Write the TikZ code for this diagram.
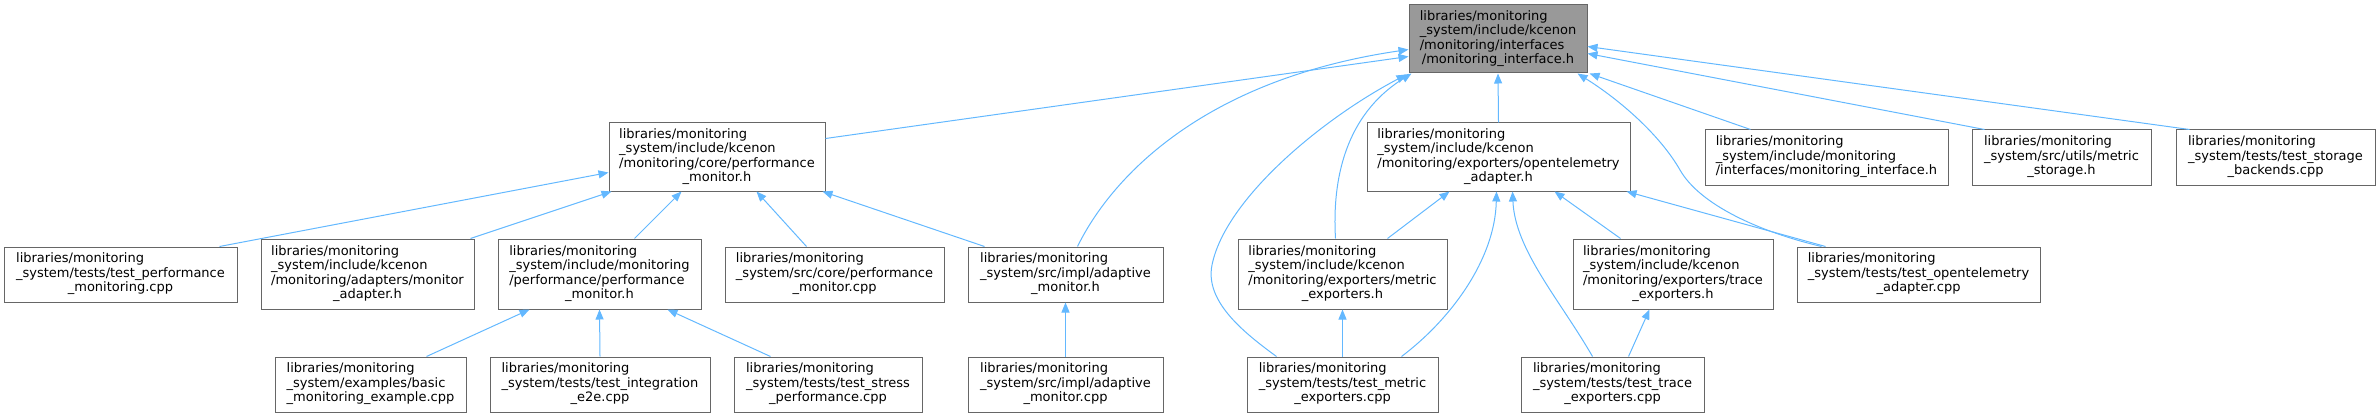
\documentclass[tikz,border=0pt]{standalone}
\usepackage{fontspec}
\newfontfamily\dvs{DejaVu Sans}
\usetikzlibrary{arrows.meta,calc}
\definecolor{gfour}{HTML}{666666}
\definecolor{gsix}{HTML}{999999}
\definecolor{edgeblue}{HTML}{63B8FF}
\newcommand\lab[2]{\begin{tabular}{@{}l@{}}#1\\\multicolumn{1}{@{}c@{}}{#2}\end{tabular}}
\tikzset{
  fbox/.style={draw=gfour, line width=1pt, fill=white, inner sep=0pt, anchor=center,
    font={\dvs\fontsize{13}{14.5}\selectfont}},
  hbig/.style={minimum height=68pt},
  hmid/.style={minimum height=70pt},
  hsml/.style={minimum height=55pt},
  edge/.style={draw=edgeblue, line width=1pt, -{Triangle[length=10pt,width=8pt,fill=edgeblue]}}
}
\begin{document}
\begin{tikzpicture}[x=1pt,y=-1pt]
\useasboundingbox (0,0) rectangle (2379,417);
% row 1
\node[fbox,hbig,fill=gsix,minimum width=178pt] (root) at (1498,39) {\lab{libraries/monitoring\\\_system/include/kcenon\\/monitoring/interfaces}{/monitoring\_interface.h}};
% row 2
\node[fbox,hbig,minimum width=216pt] (core) at (717,157) {\lab{libraries/monitoring\\\_system/include/kcenon\\/monitoring/core/performance}{\_monitor.h}};
\node[fbox,hbig,minimum width=263pt] (otel) at (1498.5,157) {\lab{libraries/monitoring\\\_system/include/kcenon\\/monitoring/exporters/opentelemetry}{\_adapter.h}};
\node[fbox,hsml,minimum width=243pt] (imi) at (1826.5,157.5) {\lab{libraries/monitoring\\\_system/include/monitoring}{/interfaces/monitoring\_interface.h}};
\node[fbox,hsml,minimum width=179pt] (mstore) at (2061.5,157.5) {\lab{libraries/monitoring\\\_system/src/utils/metric}{\_storage.h}};
\node[fbox,hsml,minimum width=199pt] (tsb) at (2275.5,157.5) {\lab{libraries/monitoring\\\_system/tests/test\_storage}{\_backends.cpp}};
% row 3
\node[fbox,hsml,minimum width=233pt] (tpm) at (120.5,274.5) {\lab{libraries/monitoring\\\_system/tests/test\_performance}{\_monitoring.cpp}};
\node[fbox,hmid,minimum width=213pt] (madp) at (367.5,274) {\lab{libraries/monitoring\\\_system/include/kcenon\\/monitoring/adapters/monitor}{\_adapter.h}};
\node[fbox,hmid,minimum width=203pt] (ppm) at (599.5,274) {\lab{libraries/monitoring\\\_system/include/monitoring\\/performance/performance}{\_monitor.h}};
\node[fbox,hsml,minimum width=219pt] (scpm) at (834.5,274.5) {\lab{libraries/monitoring\\\_system/src/core/performance}{\_monitor.cpp}};
\node[fbox,hsml,minimum width=195pt] (amh) at (1065.5,274.5) {\lab{libraries/monitoring\\\_system/src/impl/adaptive}{\_monitor.h}};
\node[fbox,hmid,minimum width=209pt] (mexp) at (1342.5,274) {\lab{libraries/monitoring\\\_system/include/kcenon\\/monitoring/exporters/metric}{\_exporters.h}};
\node[fbox,hmid,minimum width=200pt] (texp) at (1673,274) {\lab{libraries/monitoring\\\_system/include/kcenon\\/monitoring/exporters/trace}{\_exporters.h}};
\node[fbox,hsml,minimum width=243pt] (toa) at (1918.5,274.5) {\lab{libraries/monitoring\\\_system/tests/test\_opentelemetry}{\_adapter.cpp}};
% row 4
\node[fbox,hsml,minimum width=191pt] (bme) at (370.5,384.5) {\lab{libraries/monitoring\\\_system/examples/basic}{\_monitoring\_example.cpp}};
\node[fbox,hsml,minimum width=220pt] (tie) at (600,384.5) {\lab{libraries/monitoring\\\_system/tests/test\_integration}{\_e2e.cpp}};
\node[fbox,hsml,minimum width=188pt] (tsp) at (828,384.5) {\lab{libraries/monitoring\\\_system/tests/test\_stress}{\_performance.cpp}};
\node[fbox,hsml,minimum width=195pt] (amc) at (1065.5,384.5) {\lab{libraries/monitoring\\\_system/src/impl/adaptive}{\_monitor.cpp}};
\node[fbox,hsml,minimum width=191pt] (tme) at (1342.5,384.5) {\lab{libraries/monitoring\\\_system/tests/test\_metric}{\_exporters.cpp}};
\node[fbox,hsml,minimum width=183pt] (tte) at (1612.5,384.5) {\lab{libraries/monitoring\\\_system/tests/test\_trace}{\_exporters.cpp}};
% edges to root
\draw[edge] ($(core.north east)+(0,16)$) -- ($(root.north west)+(0,52)$);
\draw[edge] ($(amh.north west)+(110,0)$) .. controls (1110,180) and (1200,80) .. ($(root.north west)+(0,45)$);
\draw[edge] ($(tme.north west)+(30,0)$) .. controls (1240,330) and (1205,300) .. (1212,265) .. controls (1225,200) and (1320,120) .. ($(root.south west)+(-2,1)$);
\draw[edge] ($(mexp.north west)+(98,0)$) .. controls (1332,180) and (1345,115) .. ($(root.south west)+(3,0)$);
\draw[edge] (otel.north) -- (root.south);
\draw[edge] ($(toa.north west)+(25,0)$) .. controls (1760,232) and (1700,205) .. (1680,170) .. controls (1660,135) and (1620,100) .. ($(root.south east)+(-10,0)$);
\draw[edge] ($(imi.north west)+(46,0)$) -- ($(root.south east)+(2,0)$);
\draw[edge] ($(mstore.north west)+(13,0)$) -- ($(root.north east)+(0,49)$);
\draw[edge] ($(tsb.north west)+(14,0)$) -- ($(root.north east)+(0,42)$);
% edges to core
\draw[edge] ($(tpm.north west)+(216,0)$) -- ($(core.north west)+(0,50)$);
\draw[edge] ($(madp.north west)+(210,0)$) -- ($(core.south west)+(3,0)$);
\draw[edge] ($(ppm.north west)+(137,0)$) -- ($(core.south west)+(73,0)$);
\draw[edge] ($(scpm.north west)+(82,0)$) -- ($(core.south west)+(148,0)$);
\draw[edge] ($(amh.north west)+(17,0)$) -- ($(core.south east)+(-3,0)$);
% edges to ppm
\draw[edge] ($(bme.north west)+(152,0)$) -- ($(ppm.south west)+(32,0)$);
\draw[edge] (tie.north) -- (ppm.south);
\draw[edge] ($(tsp.north west)+(37,0)$) -- ($(ppm.south west)+(170,0)$);
% adaptive
\draw[edge] (amc.north) -- (amh.south);
% edges to otel
\draw[edge] ($(mexp.north west)+(150,0)$) -- ($(otel.south west)+(83,0)$);
\draw[edge] ($(tme.north west)+(155,0)$) .. controls (1450,320) and (1495,260) .. ($(otel.south west)+(130,0)$);
\draw[edge] ($(tte.north west)+(72,0)$) .. controls (1560,300) and (1515,250) .. ($(otel.south west)+(146,0)$);
\draw[edge] ($(texp.north west)+(48,0)$) -- ($(otel.south west)+(188,0)$);
\draw[edge] ($(toa.north west)+(29,0)$) -- ($(otel.south east)+(-4,0)$);
% exporters
\draw[edge] (tme.north) -- (mexp.south);
\draw[edge] ($(tte.north west)+(108,0)$) -- ($(texp.south west)+(77,0)$);
\end{tikzpicture}
\end{document}
